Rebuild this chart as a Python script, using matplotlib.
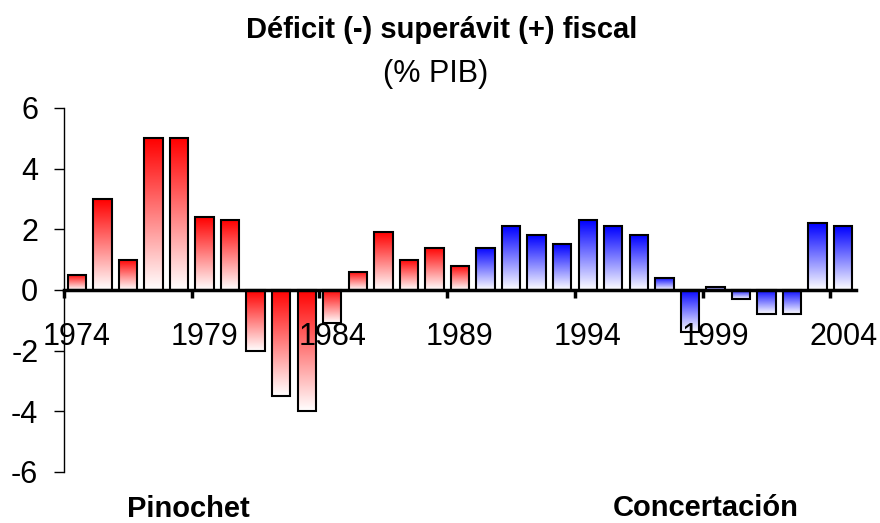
import numpy as np
import matplotlib.pyplot as plt
from matplotlib.colors import to_rgb
from matplotlib.ticker import FixedLocator, FixedFormatter

plt.rcParams['font.family'] = ['Liberation Sans', 'DejaVu Sans']
plt.rcParams['axes.unicode_minus'] = False

# Fiscal balance, % of GDP
years = list(range(1974, 2005))
balance = [0.5, 3.0, 1.0, 5.0, 5.0, 2.4, 2.3, -2.0, -3.5, -4.0, -1.1,
           0.6, 1.9, 1.0, 1.4, 0.8,
           1.4, 2.1, 1.8, 1.5, 2.3, 2.1, 1.8, 0.4, -1.4, 0.1, -0.3, -0.8, -0.8, 2.2, 2.1]
last_military_year = 1989
label_years = [1974, 1979, 1984, 1989, 1994, 1999, 2004]

RED = '#FF0000'
BLUE = '#0000FF'


def gradient_image(color):
    # white at the bottom row, full colour at the top row (origin='lower')
    t = np.linspace(0, 1, 256).reshape(-1, 1, 1)
    c = np.array(to_rgb(color)).reshape(1, 1, 3)
    return (1 - t) * np.ones((1, 1, 3)) + t * c


fig = plt.figure(figsize=(8.8, 5.23), dpi=100)
ax = fig.add_axes([64 / 880, 1 - 472 / 523, (856 - 64) / 880, (472 - 108) / 523])

x = np.arange(len(years))
bars = ax.bar(x, balance, width=0.72, fill=False, edgecolor='black',
              linewidth=1.5, zorder=1)

for yr, rect in zip(years, bars):
    col = RED if yr <= last_military_year else BLUE
    x0 = rect.get_x()
    w = rect.get_width()
    y0 = rect.get_y()
    h = rect.get_height()
    lo, hi = min(y0, y0 + h), max(y0, y0 + h)
    ax.imshow(gradient_image(col), extent=(x0, x0 + w, lo, hi), origin='lower',
              aspect='auto', interpolation='bilinear', zorder=0.9)

ax.set_xlim(-0.5, len(years) - 0.5)
ax.set_ylim(-6, 6)
ax.set_yticks([-6, -4, -2, 0, 2, 4, 6])
ax.tick_params(axis='y', direction='out', length=7.5, width=1, pad=11, labelsize=22)

# year labels at category centres, tick marks on category boundaries
centers = [years.index(y) for y in label_years]
ax.xaxis.set_major_locator(FixedLocator(centers))
ax.xaxis.set_major_formatter(FixedFormatter([str(y) for y in label_years]))
ax.xaxis.set_minor_locator(FixedLocator([c - 0.5 for c in centers]))
ax.tick_params(axis='x', which='major', length=0, pad=23, labelsize=22)
ax.tick_params(axis='x', which='minor', direction='out', length=6, width=2.5)
ax.xaxis.set_zorder(5)  # year labels sit over the negative bars

ax.spines['bottom'].set_position(('data', 0))
ax.spines['bottom'].set_linewidth(2.5)
ax.spines['bottom'].set_zorder(4)
ax.spines['left'].set_linewidth(1)
ax.spines['top'].set_visible(False)
ax.spines['right'].set_visible(False)

fig.text(442 / 880, 1 - 38 / 523, 'Déficit (-) superávit (+) fiscal', ha='center',
         va='baseline', fontsize=21, fontweight='bold')
fig.text(436 / 880, 1 - 82 / 523, '(% PIB)', ha='center', va='baseline', fontsize=22)
fig.text(188 / 880, 1 - 517 / 523, 'Pinochet', ha='center', va='baseline',
         fontsize=21, fontweight='bold')
fig.text(706 / 880, 1 - 516 / 523, 'Concertación', ha='center', va='baseline',
         fontsize=21, fontweight='bold')

fig.savefig('out.png', dpi=100)
